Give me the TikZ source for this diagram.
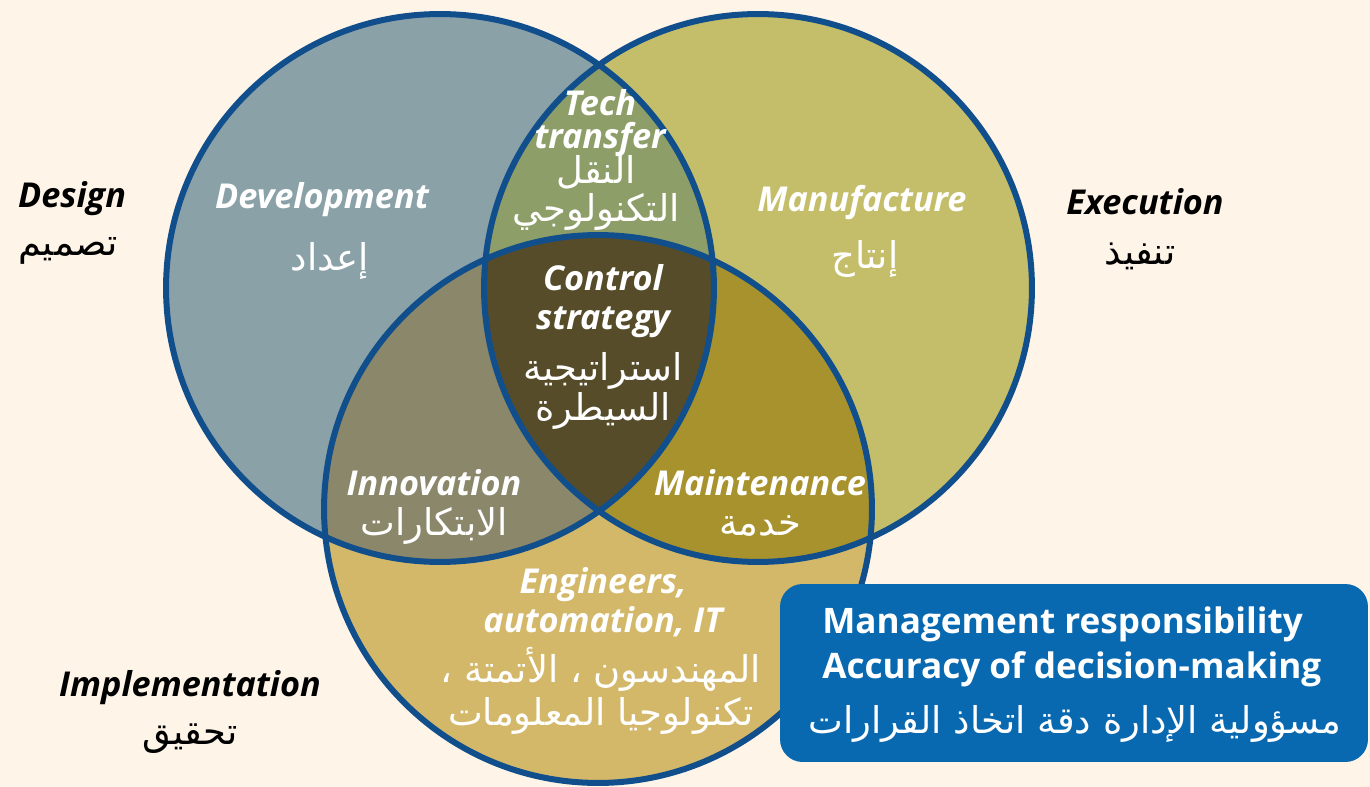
\documentclass[tikz,border=0pt]{standalone}
\usepackage{fontspec}
\setmainfont{Open Sans}
\newfontfamily\arabicfont[Script=Arabic]{DejaVu Sans}
\TeXXeTstate=1
\usetikzlibrary{positioning}
\definecolor{bgcream}{RGB}{254,244,232}
\definecolor{rimblue}{RGB}{16,78,140}
\definecolor{devgray}{RGB}{138,161,168}
\definecolor{manolive}{RGB}{196,190,106}
\definecolor{enggold}{RGB}{212,184,106}
\definecolor{techgreen}{RGB}{142,158,104}
\definecolor{innokhaki}{RGB}{138,135,106}
\definecolor{maintochre}{RGB}{168,146,46}
\definecolor{ctrlbrown}{RGB}{86,76,42}
\definecolor{boxblue}{RGB}{8,104,176}
\newcommand{\rtl}[1]{\beginR #1\endR}
\def\rad{5.48cm}

\begin{document}
\begin{tikzpicture}[
    x=0.02cm, y=-0.02cm,
    lbl/.style={font=\fontsize{19.5}{19}\selectfont\bfseries\itshape, text=white, inner sep=0pt, align=center},
    outlbl/.style={lbl, text=black},
    arlbl/.style={font=\arabicfont\fontsize{21}{21.5}\selectfont, text=white, inner sep=0pt, align=center},
    aroutlbl/.style={arlbl, text=black},
    rim/.style={draw=rimblue, line width=0.12cm},
    mgmtbox/.style={rectangle, fill=boxblue, rounded corners=0.45cm, minimum width=11.76cm, minimum height=3.56cm, inner sep=0pt},
    boxtxt/.style={font=\fontsize{20}{25.5}\selectfont\bfseries, text=white, inner sep=0pt, align=left}
]
    \useasboundingbox (0,0) rectangle (1370,787);
    \fill[bgcream] (0,0) rectangle (1370,787);

    \coordinate (dev) at (440,288);
    \coordinate (man) at (758,288);
    \coordinate (eng) at (598,509);

    % plain discs first, overlaps painted on top
    \fill[devgray] (dev) circle[radius=\rad];
    \fill[manolive] (man) circle[radius=\rad];
    \fill[enggold] (eng) circle[radius=\rad];
    \begin{scope}
        \clip (dev) circle[radius=\rad];
        \fill[techgreen] (man) circle[radius=\rad];
        \fill[innokhaki] (eng) circle[radius=\rad];
    \end{scope}
    \begin{scope}
        \clip (man) circle[radius=\rad];
        \fill[maintochre] (eng) circle[radius=\rad];
        \clip (dev) circle[radius=\rad];
        \fill[ctrlbrown] (eng) circle[radius=\rad];
    \end{scope}
    \draw[rim] (dev) circle[radius=\rad];
    \draw[rim] (man) circle[radius=\rad];
    \draw[rim] (eng) circle[radius=\rad];

    % outside labels
    \node[outlbl] (design) at (72,199) {Design};
    \node[aroutlbl] (designar) at (68,251) {\rtl{تصميم}};
    \node[outlbl] (exec) at (1145,202) {Execution};
    \node[aroutlbl] (execar) at (1140,256) {\rtl{تنفيذ}};
    \node[outlbl] (impl) at (190,688) {Implementation};
    \node[aroutlbl] (implar) at (190,739) {\rtl{تحقيق}};

    % one-circle regions
    \node[lbl] (devel) at (322,200) {Development};
    \node[arlbl] (develar) at (330,261) {\rtl{إعداد}};
    \node[lbl] (manuf) at (862,203) {Manufacture};
    \node[arlbl] (manufar) at (865,259) {\rtl{إنتاج}};
    \node[lbl, font=\fontsize{19.5}{22.5}\selectfont\bfseries\itshape] (engin) at (603,602) {Engineers,\\automation, IT};
    \node[arlbl, font=\arabicfont\fontsize{21}{24.5}\selectfont] (enginar) at (601,691) {\rtl{المهندسون ، الأتمتة ،}\\\rtl{تكنولوجيا المعلومات}};

    % two-circle regions
    \node[lbl] (tech) at (600,123) {Tech\\transfer};
    \node[arlbl] (techar) at (596,193) {\rtl{النقل}\\\rtl{التكنولوجي}};
    \node[lbl] (innov) at (434,483) {Innovation};
    \node[arlbl] (innovar) at (434,526) {\rtl{الابتكارات}};
    \node[lbl] (maint) at (760,483) {Maintenance};
    \node[arlbl] (maintar) at (760,526) {\rtl{خدمة}};

    % centre
    \node[lbl, font=\fontsize{19.5}{22}\selectfont\bfseries\itshape] (control) at (603,301) {Control\\strategy};
    \node[arlbl, font=\arabicfont\fontsize{21}{22.5}\selectfont] (controlar) at (603,391) {\rtl{استراتيجية}\\\rtl{السيطرة}};

    % management box
    \node[mgmtbox] (mgmt) at (1074,673) {};
    \node[boxtxt, anchor=west] (resp) at (822,647) {Management responsibility\\Accuracy of decision-making};
    \node[arlbl] (mgmtar) at (1075,724) {\rtl{مسؤولية الإدارة دقة اتخاذ القرارات}};
\end{tikzpicture}
\end{document}
